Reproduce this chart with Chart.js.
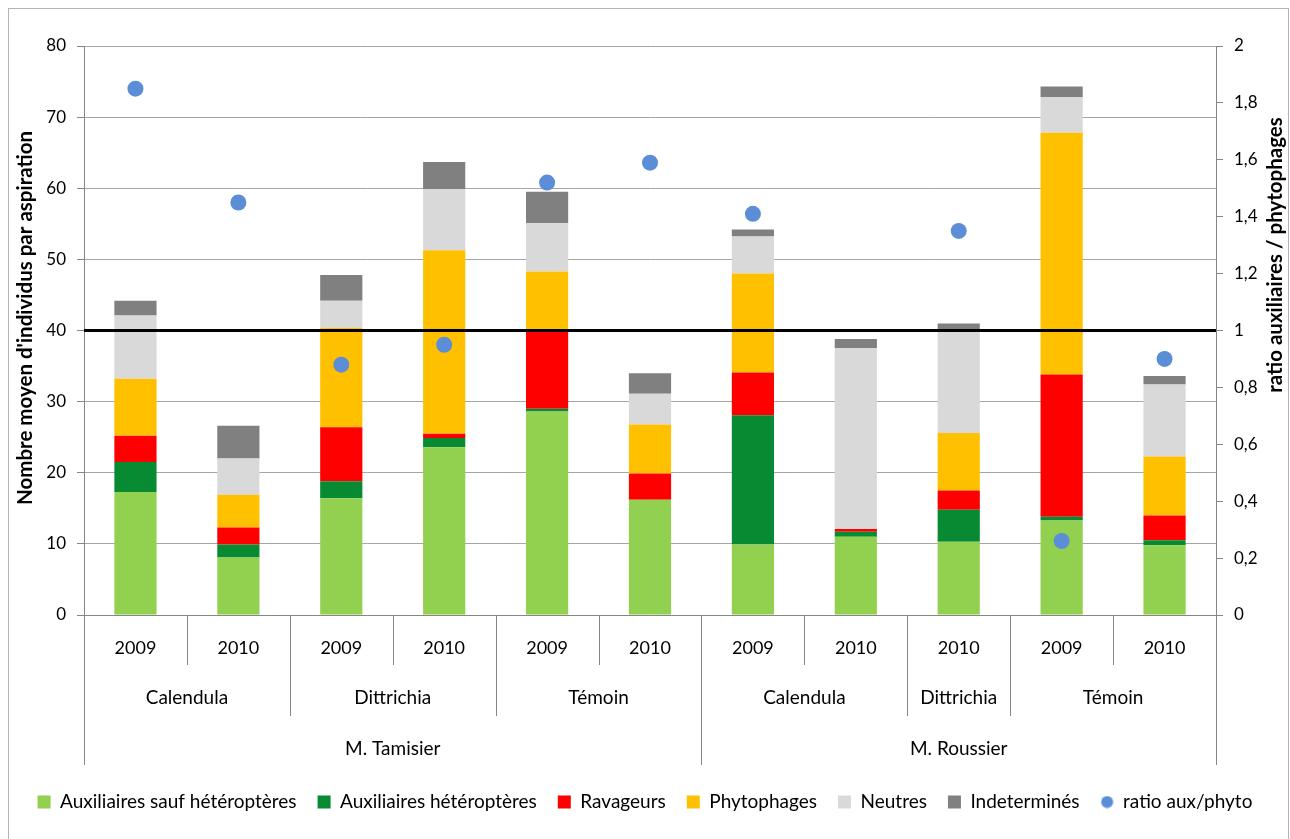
<!DOCTYPE html>
<html>
<head>
<meta charset="utf-8">
<script src="https://cdn.jsdelivr.net/npm/chart.js@4"></script>
<style>
  html, body { margin: 0; padding: 0; background: #fff; }
  #wrap { width: 1290px; height: 839px; }
</style>
</head>
<body>
<div id="wrap"><canvas id="chart" width="1290" height="839"></canvas></div>
<script>
// categories (three levels)
const years = ["2009", "2010", "2009", "2010", "2009", "2010", "2009", "2010", "2010", "2009", "2010"];
const plots = ["Calendula", "Calendula", "Dittrichia", "Dittrichia", "Témoin", "Témoin",
               "Calendula", "Calendula", "Dittrichia", "Témoin", "Témoin"];
const farms = ["M. Tamisier", "M. Tamisier", "M. Tamisier", "M. Tamisier", "M. Tamisier", "M. Tamisier",
               "M. Roussier", "M. Roussier", "M. Roussier", "M. Roussier", "M. Roussier"];

// stacked series (mean number per sample)
const auxSaufHet = [17.3, 8.1, 16.4, 23.6, 28.6, 16.2, 9.9, 11.0, 10.3, 13.3, 9.8];
const auxHet     = [4.2, 1.8, 2.4, 1.3, 0.4, 0, 18.2, 0.7, 4.5, 0.5, 0.7];
const ravageurs  = [3.7, 2.4, 7.6, 0.6, 10.8, 3.7, 6.0, 0.4, 2.7, 20.0, 3.5];
const phytophages = [8.0, 4.6, 14.0, 25.8, 8.5, 6.9, 13.9, 0, 8.1, 34.0, 8.3];
const neutres    = [8.9, 5.1, 3.8, 8.6, 6.8, 4.3, 5.2, 25.4, 14.6, 5.0, 10.1];
const indetermines = [2.1, 4.6, 3.6, 3.8, 4.4, 2.9, 1.0, 1.3, 0.8, 1.5, 1.2];

// ratio on the right axis
const ratio = [1.85, 1.45, 0.88, 0.95, 1.52, 1.59, 1.41, null, 1.35, 0.26, 0.90];
const ratioLine = 1; // ratio = 1 reference line

const leftTitle = "Nombre moyen d'individus par aspiration";
const rightTitle = "ratio auxiliaires / phytophages";

const FONT = "Lato";
const AXIS = "#868686";
const GRID = "#a6a6a6";

// small round marker for the legend entry of the ratio
const dot = document.createElement("canvas");
dot.width = 13; dot.height = 13;
(function () {
    const c = dot.getContext("2d");
    c.fillStyle = "#5b8ed6";
    c.beginPath();
    c.arc(6.5, 6.5, 6, 0, Math.PI * 2);
    c.fill();
})();

const frame = {
    id: "frame",
    beforeDraw(chart) {
        const ctx = chart.ctx;
        ctx.save();
        ctx.fillStyle = "#fff";
        ctx.fillRect(0, 0, chart.width, chart.height);
        ctx.strokeStyle = "#b4b4b4";
        ctx.lineWidth = 1;
        ctx.strokeRect(8.5, 8.5, chart.width - 10, chart.height + 10);
        ctx.restore();
    }
};

const refLine = {
    id: "refLine",
    afterDatasetsDraw(chart) {
        const {ctx, chartArea, scales} = chart;
        const y = scales.y1.getPixelForValue(ratioLine);
        ctx.save();
        ctx.strokeStyle = "#000";
        ctx.lineWidth = 3;
        ctx.beginPath();
        ctx.moveTo(chartArea.left, y);
        ctx.lineTo(chartArea.right, y);
        ctx.stroke();
        ctx.restore();
    }
};

const multiAxis = {
    id: "multiAxis",
    afterDraw(chart) {
        const {ctx, chartArea, scales: {x}} = chart;
        const n = years.length;
        const bound = i => i === 0 ? chartArea.left : i === n ? chartArea.right
            : (x.getPixelForValue(i - 1) + x.getPixelForValue(i)) / 2;
        const base = chartArea.bottom;
        ctx.save();
        ctx.strokeStyle = AXIS;
        ctx.lineWidth = 1;
        for (let i = 0; i <= n; i++) {
            let len = 50;
            if (i === 0 || i === n || farms[i] !== farms[i - 1]) len = 150;
            else if (plots[i] !== plots[i - 1]) len = 101;
            const px = Math.round(bound(i)) + 0.5;
            ctx.beginPath();
            ctx.moveTo(px, base);
            ctx.lineTo(px, base + len);
            ctx.stroke();
        }
        ctx.fillStyle = "#000";
        ctx.font = "19px " + FONT;
        ctx.textAlign = "center";
        ctx.textBaseline = "middle";
        const spans = (keyOf, label, y) => {
            let start = 0;
            for (let i = 1; i <= n; i++) {
                if (i === n || keyOf(i) !== keyOf(start)) {
                    ctx.fillText(label(start), (bound(start) + bound(i)) / 2, y);
                    start = i;
                }
            }
        };
        spans(i => farms[i] + "|" + plots[i], i => plots[i], base + 83);
        spans(i => farms[i], i => farms[i], base + 134);

        // axis titles, both reading bottom to top
        ctx.font = "bold 20.5px " + FONT;
        ctx.save();
        ctx.translate(25, 318);
        ctx.rotate(-Math.PI / 2);
        ctx.fillText(leftTitle, 0, 0);
        ctx.restore();
        ctx.save();
        ctx.translate(1275, 255);
        ctx.rotate(-Math.PI / 2);
        ctx.fillText(rightTitle, 0, 0);
        ctx.restore();
        ctx.restore();
    }
};

const bar = (label, data, color) => ({
    type: "bar", label, data, backgroundColor: color, borderWidth: 0,
    pointStyle: "rect", yAxisID: "y",
    barPercentage: 0.41, categoryPercentage: 1
});

new Chart(document.getElementById("chart"), {
    data: {
        labels: years,
        datasets: [
            bar("Auxiliaires sauf hétéroptères", auxSaufHet, "#92d050"),
            bar("Auxiliaires hétéroptères", auxHet, "#078a32"),
            bar("Ravageurs", ravageurs, "#ff0000"),
            bar("Phytophages", phytophages, "#ffc000"),
            bar("Neutres", neutres, "#d9d9d9"),
            bar("Indeterminés", indetermines, "#808080"),
            {
                type: "line", label: "ratio aux/phyto", data: ratio, yAxisID: "y1",
                showLine: false, pointRadius: 8, pointStyle: "circle",
                backgroundColor: "#5b8ed6", borderColor: "#5b8ed6", borderWidth: 0,
                order: -1
            }
        ]
    },
    options: {
        responsive: false,
        animation: false,
        devicePixelRatio: 1,
        layout: { padding: { left: 0, right: 0, top: 46, bottom: 17.5 } },
        plugins: {
            tooltip: { enabled: false },
            legend: {
                position: "bottom",
                labels: {
                    usePointStyle: true, boxWidth: 13, boxHeight: 13, padding: 21,
                    color: "#000", font: { family: FONT, size: 19 },
                    sort: (a, b) => a.datasetIndex - b.datasetIndex,
                    generateLabels(chart) {
                        const items = Chart.defaults.plugins.legend.labels.generateLabels(chart);
                        items.forEach(it => { if (it.datasetIndex === 6) it.pointStyle = dot; });
                        return items;
                    }
                }
            }
        },
        scales: {
            x: {
                stacked: true,
                grid: { display: false },
                border: { color: AXIS, width: 1 },
                ticks: { color: "#000", font: { family: FONT, size: 18 }, padding: 14, maxRotation: 0 },
                afterFit(s) { s.height = 156.5; }
            },
            y: {
                stacked: true, min: 0, max: 80, position: "left",
                ticks: { stepSize: 10, padding: 11, color: "#000", font: { family: FONT, size: 17 } },
                grid: { color: GRID, tickLength: 7, tickColor: AXIS },
                border: { color: AXIS, width: 1 },
                afterFit(s) { s.width = 84; }
            },
            y1: {
                min: 0, max: 2, position: "right",
                ticks: {
                    stepSize: 0.2, padding: 11, color: "#000", font: { family: FONT, size: 17 },
                    callback: v => String(Math.round(v * 10) / 10).replace(".", ",")
                },
                grid: { drawOnChartArea: false, tickLength: 7, color: AXIS },
                border: { color: AXIS, width: 1 },
                afterFit(s) { s.width = 74; }
            }
        }
    },
    plugins: [frame, refLine, multiAxis]
});
</script>
</body>
</html>
